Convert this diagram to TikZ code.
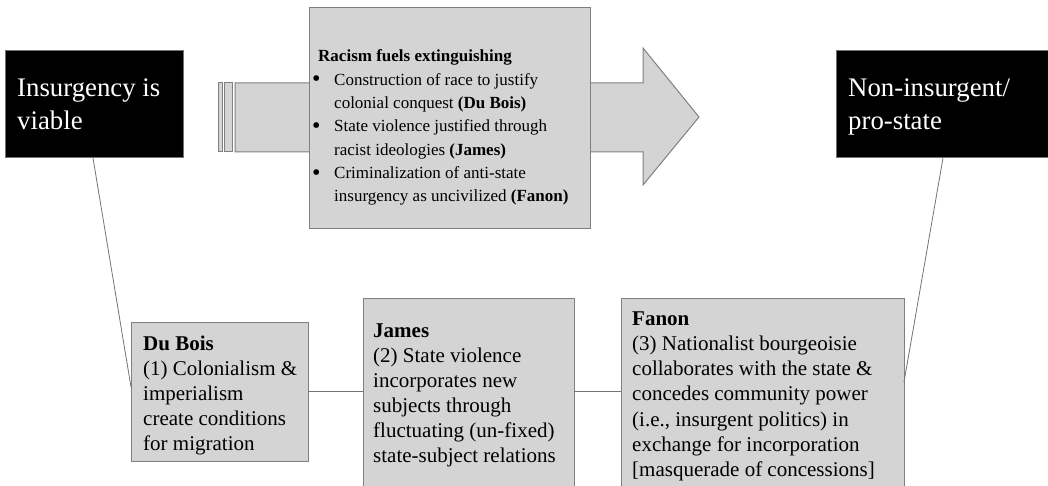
\documentclass[tikz,border=0pt]{standalone}
\usepackage{fontspec}
\setmainfont{Liberation Serif}
\tikzset{
  greybox/.style={draw=black!50, fill=black!17, line width=1pt, inner sep=0pt, outer sep=0pt, anchor=north west},
  blackbox/.style={draw=black!55, fill=black, line width=1pt, inner sep=0pt, outer sep=0pt, anchor=north west},
  bigtxt/.style={anchor=base west, inner sep=0pt, text=white, font=\fontsize{26.8}{33}\selectfont},
  midtxt/.style={anchor=base west, inner sep=0pt, font=\fontsize{17}{23}\selectfont},
  bul/.style={anchor=base west, inner sep=0pt, font=\fontsize{24}{23}\selectfont},
  lowtxt/.style={anchor=base west, inner sep=0pt, font=\fontsize{21}{25}\selectfont},
  link/.style={draw=black!55, line width=0.8pt}
}
\begin{document}
\begin{tikzpicture}[x=1pt,y=-1pt]
\useasboundingbox (0,0) rectangle (1048,486);
\clip (0,0) rectangle (1048,486);
% black boxes
\node[blackbox, minimum width=178pt, minimum height=107pt] (ins) at (5,51) {};
\node[blackbox, minimum width=220pt, minimum height=107pt] (non) at (836,51) {};
\node[bigtxt] (ins1) at (17,97) {Insurgency is};
\node[bigtxt] (ins2) at (17,130) {viable};
\node[bigtxt] (non1) at (848,97) {Non-insurgent/};
\node[bigtxt] (non2) at (848,130) {pro-state};
% striped arrow
\draw[draw=black!50, fill=black!17, line width=1pt] (218,83) rectangle (222,152);
\draw[draw=black!50, fill=black!17, line width=1pt] (224,83) rectangle (232,152);
\draw[draw=black!50, fill=black!17, line width=1pt]
  (235,83) -- (643,83) -- (643,48) -- (699,117) -- (643,185) -- (643,152) -- (235,152) -- cycle;
% main box
\node[greybox, minimum width=281pt, minimum height=221pt] (main) at (309,8) {};
\node[midtxt] (m0) at (318,62) {\textbf{Racism fuels extinguishing}};
\node[bul] (b1) at (312,87) {•};
\node[midtxt] (m1) at (334,85.3) {Construction of race to justify};
\node[midtxt] (m2) at (334,108.7) {colonial conquest \textbf{(Du Bois)}};
\node[bul] (b2) at (312,133.7) {•};
\node[midtxt] (m3) at (334,132) {State violence justified through};
\node[midtxt] (m4) at (334,155.3) {racist ideologies \textbf{(James)}};
\node[bul] (b3) at (312,180.4) {•};
\node[midtxt] (m5) at (334,178.7) {Criminalization of anti-state};
\node[midtxt] (m6) at (334,202) {insurgency as uncivilized \textbf{(Fanon)}};
% bottom boxes
\node[greybox, minimum width=177pt, minimum height=139pt] (dubois) at (131,322) {};
\node[greybox, minimum width=211pt, minimum height=196pt] (james) at (363,298) {};
\node[greybox, minimum width=283pt, minimum height=196pt] (fanon) at (621,298) {};
\node[lowtxt] (d0) at (143,350) {\textbf{Du Bois}};
\node[lowtxt] (d1) at (143,375) {(1) Colonialism \&};
\node[lowtxt] (d2) at (143,400) {imperialism};
\node[lowtxt] (d3) at (143,425) {create conditions};
\node[lowtxt] (d4) at (143,450) {for migration};
\node[lowtxt] (j0) at (373,337) {\textbf{James}};
\node[lowtxt] (j1) at (373,362) {(2) State violence};
\node[lowtxt] (j2) at (373,387) {incorporates new};
\node[lowtxt] (j3) at (373,412) {subjects through};
\node[lowtxt] (j4) at (373,437) {fluctuating (un-fixed)};
\node[lowtxt] (j5) at (373,462) {state-subject relations};
\node[lowtxt] (f0) at (632,325) {\textbf{Fanon}};
\node[lowtxt] (f1) at (632,350.3) {(3) Nationalist bourgeoisie};
\node[lowtxt] (f2) at (632,375.6) {collaborates with the state \&};
\node[lowtxt] (f3) at (632,400.9) {concedes community power};
\node[lowtxt] (f4) at (632,426.2) {(i.e., insurgent politics) in};
\node[lowtxt] (f5) at (632,451.5) {exchange for incorporation};
\node[lowtxt] (f6) at (632,476.8) {[masquerade of concessions]};
% connectors
\draw[link] ([xshift=88pt]ins.south west) -- ([yshift=-65pt]dubois.north west);
\draw[link] ([xshift=107pt]non.south west) -- ([yshift=-84pt]fanon.north east);
\draw[link] (dubois.east) -- (dubois.east -| james.west);
\draw[link] (dubois.east -| james.east) -- (dubois.east -| fanon.west);
\end{tikzpicture}
\end{document}
